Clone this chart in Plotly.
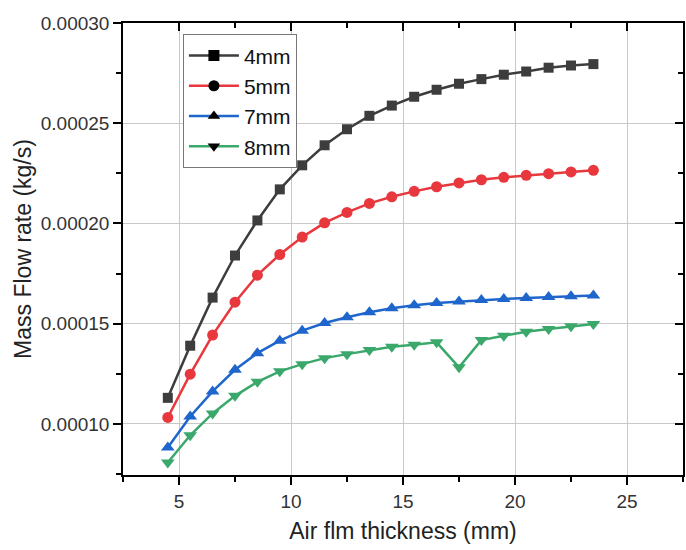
import plotly.graph_objects as go

x_mm = [4.5, 5.5, 6.5, 7.5, 8.5, 9.5, 10.5, 11.5, 12.5, 13.5,
        14.5, 15.5, 16.5, 17.5, 18.5, 19.5, 20.5, 21.5, 22.5, 23.5]

y_4mm = [0.000113, 0.000139, 0.000163, 0.000184, 0.0002015, 0.000217, 0.000229, 0.000239, 0.000247, 0.0002537,
         0.0002588, 0.0002632, 0.0002667, 0.0002697, 0.000272, 0.0002742, 0.0002758, 0.0002777, 0.0002788, 0.0002795]
y_5mm = [0.0001032, 0.0001248, 0.0001443, 0.0001607, 0.0001742, 0.0001845, 0.0001932, 0.0002003, 0.0002055, 0.00021,
         0.0002133, 0.000216, 0.0002183, 0.0002202, 0.0002218, 0.000223, 0.000224, 0.0002248, 0.0002257, 0.0002265]
y_7mm = [0.0000882, 0.0001037, 0.0001162, 0.000127, 0.0001353, 0.0001415, 0.0001465, 0.0001503, 0.0001532, 0.0001557,
         0.0001577, 0.0001592, 0.0001603, 0.000161, 0.0001618, 0.0001623, 0.0001628, 0.0001633, 0.0001637, 0.000164]
y_8mm = [0.0000807, 0.0000943, 0.0001052, 0.000114, 0.000121, 0.0001262, 0.0001298, 0.0001328, 0.0001348, 0.0001368,
         0.0001385, 0.0001395, 0.0001407, 0.0001282, 0.0001418, 0.000144, 0.000146, 0.0001473, 0.0001487, 0.0001498]

names = ["4mm", "5mm", "7mm", "8mm"]
series = [y_4mm, y_5mm, y_7mm, y_8mm]
colors = ["#3d3d3d", "#e8383d", "#1f66cc", "#3aa86a"]
symbols = ["square", "circle", "triangle-up", "triangle-down"]
sizes = [10, 11, 12, 12]

x_ticks = [5, 10, 15, 20, 25]
y_ticks = [0.0001, 0.00015, 0.0002, 0.00025, 0.0003]
y_ticklabels = ["0.00010", "0.00015", "0.00020", "0.00025", "0.00030"]

FONT = "Liberation Sans, Arial, sans-serif"

fig = go.Figure()
for n, ys, c, s, sz in zip(names, series, colors, symbols, sizes):
    fig.add_trace(go.Scatter(x=x_mm, y=ys, mode="lines+markers", name=n,
                             line=dict(color=c, width=2.5),
                             marker=dict(symbol=s, size=sz, color=c),
                             showlegend=False))
# legend entries: coloured line with black marker
for n, c, s in zip(names, colors, symbols):
    fig.add_trace(go.Scatter(x=[None], y=[None], mode="lines+markers", name=n,
                             line=dict(color=c, width=2.5),
                             marker=dict(symbol=s, size=11, color="black")))

xr = [2.5, 27.5]
yr = [0.0000745, 0.0003]

fig.update_layout(
    width=686, height=550,
    margin=dict(l=123, r=3, t=23, b=75),
    paper_bgcolor="white", plot_bgcolor="white",
    font=dict(family=FONT, color="#222222"),
    legend=dict(x=0.107, y=0.975, xanchor="left", yanchor="top",
                bgcolor="white", bordercolor="#777777", borderwidth=1,
                font=dict(size=21, family=FONT, color="#111111"),
                itemwidth=50, tracegroupgap=0),
    xaxis=dict(range=xr, tickvals=x_ticks, ticks="outside", ticklen=8, tickwidth=1.5,
               tickcolor="black", showline=True, linecolor="black", linewidth=1.5,
               showgrid=True, gridcolor="#c8c8c8", gridwidth=1, zeroline=False,
               minor=dict(dtick=2.5, tick0=0, ticks="outside", ticklen=5, tickwidth=1.5, tickcolor="black", showgrid=False),
               tickfont=dict(size=19, color="#333333"),
               title=dict(text="Air flm thickness (mm)", font=dict(size=23, color="#222222"), standoff=12)),
    yaxis=dict(range=yr, tickvals=y_ticks, ticktext=y_ticklabels, ticks="outside", ticklen=8, tickwidth=1.5,
               tickcolor="black", showline=True, linecolor="black", linewidth=1.5,
               showgrid=True, gridcolor="#c8c8c8", gridwidth=1, zeroline=False,
               minor=dict(dtick=0.000025, tick0=0, ticks="outside", ticklen=5, tickwidth=1.5, tickcolor="black", showgrid=False),
               tickfont=dict(size=19, color="#333333"),
               title=dict(text="Mass Flow rate (kg/s)", font=dict(size=23, color="#222222"), standoff=3)),
    xaxis2=dict(overlaying="x", side="top", matches="x", range=xr, tickvals=x_ticks, ticks="inside",
                ticklen=8, tickwidth=1.5, tickcolor="black", showline=True, linecolor="black", linewidth=1.5,
                showgrid=False, showticklabels=False, zeroline=False,
                minor=dict(dtick=2.5, tick0=0, ticks="inside", ticklen=5, tickwidth=1.5, tickcolor="black", showgrid=False)),
    yaxis2=dict(overlaying="y", side="right", matches="y", range=yr, tickvals=y_ticks, ticks="inside",
                ticklen=8, tickwidth=1.5, tickcolor="black", showline=True, linecolor="black", linewidth=1.5,
                showgrid=False, showticklabels=False, zeroline=False,
                minor=dict(dtick=0.000025, tick0=0, ticks="inside", ticklen=5, tickwidth=1.5, tickcolor="black", showgrid=False)),
)
# invisible trace to activate the mirrored axes
fig.add_trace(go.Scatter(x=[None], y=[None], xaxis="x2", yaxis="y2", showlegend=False, hoverinfo="skip"))

fig.write_html("out.html")
